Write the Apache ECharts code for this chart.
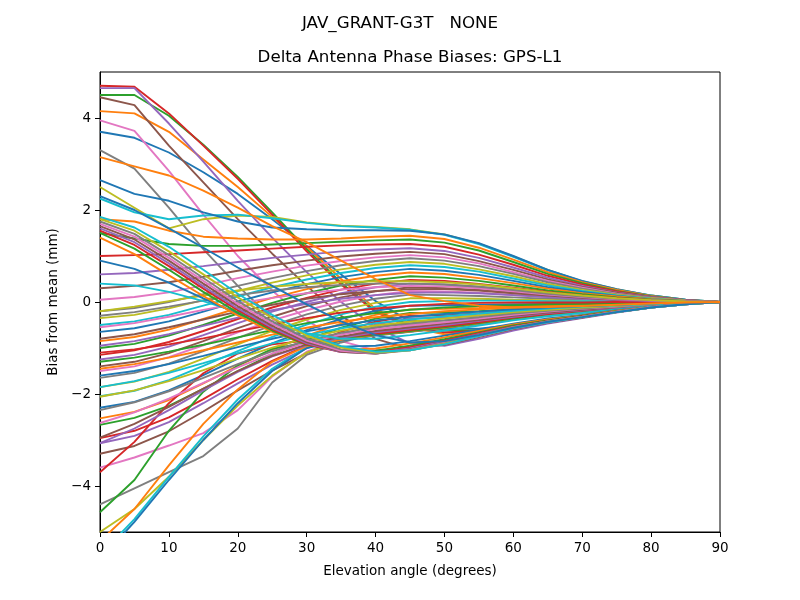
<!DOCTYPE html>
<html>
<head>
<meta charset="utf-8">
<script src="https://cdn.jsdelivr.net/npm/echarts@6/dist/echarts.min.js"></script>
<style>html,body{margin:0;padding:0;background:#fff}#chart{width:800px;height:600px}</style>
</head>
<body>
<div id="chart"></div>
<script>
const elevations = [0,5,10,15,20,25,30,35,40,45,50,55,60,65,70,75,80,85,90];
const yTicks = [-4,-2,0,2,4];
const xTicks = [0,10,20,30,40,50,60,70,80,90];

const line00 = [3.70,3.57,3.25,2.82,2.35,1.80,1.22,0.60,0.02,-0.42,-0.58,-0.58,-0.50,-0.39,-0.29,-0.19,-0.10,-0.04,0];
const line01 = [4.15,4.10,3.70,3.10,2.50,1.85,1.20,0.50,-0.15,-0.55,-0.70,-0.68,-0.56,-0.43,-0.32,-0.21,-0.11,-0.04,0];
const line02 = [4.50,4.50,4.05,3.42,2.72,1.95,1.15,0.42,-0.20,-0.50,-0.62,-0.62,-0.53,-0.41,-0.31,-0.20,-0.11,-0.04,0];
const line03 = [4.70,4.68,4.10,3.40,2.68,1.90,1.10,0.38,-0.22,-0.55,-0.66,-0.63,-0.53,-0.41,-0.31,-0.20,-0.11,-0.04,0];
const line04 = [4.65,4.65,3.88,3.05,2.20,1.40,0.65,0.00,-0.55,-0.90,-0.95,-0.80,-0.62,-0.47,-0.35,-0.23,-0.12,-0.05,0];
const line05 = [4.45,4.28,3.40,2.60,1.80,1.05,0.35,-0.30,-0.80,-1.02,-0.93,-0.76,-0.59,-0.45,-0.34,-0.22,-0.12,-0.05,0];
const line06 = [3.95,3.72,2.85,1.90,1.00,0.25,-0.40,-0.85,-1.05,-1.05,-0.91,-0.74,-0.57,-0.44,-0.33,-0.22,-0.12,-0.05,0];
const line07 = [3.30,2.90,2.05,1.15,0.35,-0.35,-0.85,-1.08,-1.12,-1.02,-0.88,-0.71,-0.55,-0.43,-0.33,-0.22,-0.12,-0.05,0];
const line08 = [2.50,2.05,1.60,1.80,1.88,1.85,1.73,1.66,1.63,1.58,1.47,1.27,0.99,0.70,0.45,0.28,0.14,0.05,0];
const line09 = [2.25,1.95,1.80,1.88,1.90,1.82,1.72,1.65,1.62,1.57,1.46,1.26,0.98,0.69,0.45,0.27,0.14,0.05,0];
const line10 = [2.65,2.35,2.20,1.95,1.75,1.62,1.58,1.56,1.56,1.55,1.47,1.28,1.00,0.70,0.46,0.28,0.14,0.05,0];
const line11 = [1.80,1.75,1.55,1.42,1.38,1.36,1.36,1.38,1.42,1.44,1.37,1.18,0.92,0.65,0.43,0.26,0.13,0.04,0];
const line12 = [1.50,1.38,1.26,1.22,1.22,1.25,1.28,1.31,1.34,1.36,1.29,1.12,0.87,0.61,0.41,0.24,0.12,0.04,0];
const line13 = [1.00,1.02,1.04,1.08,1.12,1.16,1.20,1.23,1.25,1.26,1.20,1.03,0.81,0.57,0.38,0.23,0.11,0.04,0];
const line14 = [0.60,0.63,0.70,0.78,0.87,0.96,1.03,1.10,1.14,1.17,1.11,0.96,0.75,0.53,0.35,0.21,0.11,0.04,0];
const line15 = [0.30,0.35,0.43,0.55,0.68,0.80,0.90,0.99,1.05,1.09,1.04,0.89,0.70,0.49,0.33,0.20,0.10,0.03,0];
const line16 = [0.05,0.11,0.21,0.36,0.52,0.66,0.79,0.89,0.97,1.02,0.97,0.84,0.65,0.46,0.31,0.18,0.09,0.03,0];
const line17 = [-0.20,-0.13,0.00,0.17,0.35,0.52,0.67,0.80,0.89,0.95,0.90,0.78,0.61,0.43,0.29,0.17,0.09,0.03,0];
const line18 = [-0.35,-0.28,-0.14,0.04,0.24,0.42,0.58,0.71,0.81,0.87,0.83,0.71,0.56,0.39,0.26,0.16,0.08,0.03,0];
const line19 = [-0.50,-0.42,-0.28,-0.08,0.12,0.32,0.49,0.63,0.74,0.80,0.76,0.66,0.51,0.36,0.24,0.14,0.07,0.02,0];
const line20 = [-0.65,-0.57,-0.42,-0.21,0.01,0.21,0.39,0.54,0.65,0.72,0.68,0.59,0.46,0.32,0.22,0.13,0.06,0.02,0];
const line21 = [-0.85,-0.76,-0.60,-0.37,-0.13,0.09,0.28,0.45,0.57,0.64,0.61,0.52,0.41,0.29,0.19,0.12,0.06,0.02,0];
const line22 = [-1.00,-0.91,-0.73,-0.50,-0.25,-0.02,0.19,0.36,0.48,0.56,0.53,0.46,0.36,0.25,0.17,0.10,0.05,0.02,0];
const line23 = [-1.15,-1.05,-0.87,-0.63,-0.37,-0.12,0.09,0.27,0.40,0.48,0.46,0.39,0.31,0.22,0.14,0.09,0.04,0.01,0];
const line24 = [-1.25,-1.15,-0.97,-0.72,-0.46,-0.21,0.00,0.19,0.32,0.40,0.38,0.33,0.26,0.18,0.12,0.07,0.04,0.01,0];
const line25 = [-1.40,-1.30,-1.11,-0.85,-0.57,-0.32,-0.09,0.10,0.23,0.32,0.30,0.26,0.20,0.14,0.10,0.06,0.03,0.01,0];
const line26 = [-1.50,-1.40,-1.20,-0.94,-0.66,-0.40,-0.18,0.01,0.15,0.24,0.23,0.20,0.15,0.11,0.07,0.04,0.02,0.01,0];
const line27 = [-1.65,-1.54,-1.34,-1.07,-0.78,-0.51,-0.27,-0.08,0.07,0.16,0.15,0.13,0.10,0.07,0.05,0.03,0.01,0.00,0];
const line28 = [-1.85,-1.73,-1.52,-1.23,-0.92,-0.63,-0.38,-0.17,-0.02,0.08,0.08,0.07,0.05,0.04,0.02,0.01,0.01,0.00,0];
const line29 = [-2.05,-1.93,-1.70,-1.39,-1.07,-0.76,-0.49,-0.27,-0.10,0.00,0.02,0.03,0.03,0.02,0.02,0.01,0.01,0.00,0];
const line30 = [-2.30,-2.17,-1.92,-1.59,-1.23,-0.90,-0.61,-0.37,-0.19,-0.08,-0.07,-0.06,-0.05,-0.04,-0.03,-0.02,-0.01,0.00,0];
const line31 = [-2.53,-2.39,-2.13,-1.77,-1.39,-1.04,-0.73,-0.47,-0.28,-0.16,-0.15,-0.13,-0.10,-0.07,-0.05,-0.03,-0.01,0.00,0];
const line32 = [-2.67,-2.52,-2.26,-1.89,-1.50,-1.14,-0.82,-0.56,-0.36,-0.24,-0.23,-0.20,-0.15,-0.11,-0.07,-0.04,-0.02,-0.01,0];
const line33 = [-2.96,-2.80,-2.51,-2.11,-1.68,-1.28,-0.94,-0.65,-0.43,-0.30,-0.29,-0.25,-0.19,-0.14,-0.09,-0.05,-0.03,-0.01,0];
const line34 = [-3.07,-2.91,-2.61,-2.20,-1.77,-1.36,-1.01,-0.71,-0.49,-0.36,-0.34,-0.30,-0.23,-0.16,-0.11,-0.06,-0.03,-0.01,0];
const line35 = [-3.30,-3.13,-2.81,-2.38,-1.92,-1.49,-1.11,-0.79,-0.56,-0.42,-0.40,-0.34,-0.27,-0.19,-0.13,-0.08,-0.04,-0.01,0];
const line36 = [-3.60,-3.38,-3.12,-2.85,-2.35,-1.62,-1.08,-0.82,-0.64,-0.48,-0.46,-0.39,-0.31,-0.22,-0.14,-0.09,-0.04,-0.01,0];
const line37 = [-4.40,-4.05,-3.70,-3.35,-2.75,-1.75,-1.15,-0.88,-0.68,-0.54,-0.51,-0.44,-0.35,-0.24,-0.16,-0.10,-0.05,-0.02,0];
const line38 = [-5.00,-4.50,-3.80,-3.00,-2.25,-1.60,-1.10,-0.84,-0.68,-0.58,-0.55,-0.48,-0.37,-0.26,-0.17,-0.10,-0.05,-0.02,0];
const line39 = [-5.50,-4.72,-3.80,-2.92,-2.12,-1.45,-0.98,-0.83,-0.72,-0.64,-0.56,-0.47,-0.37,-0.28,-0.20,-0.13,-0.07,-0.03,0];
const line40 = [-5.60,-4.78,-3.87,-3.00,-2.20,-1.50,-1.00,-0.84,-0.73,-0.65,-0.57,-0.48,-0.38,-0.29,-0.21,-0.14,-0.07,-0.03,0];
const line41 = [-5.20,-4.50,-3.55,-2.65,-1.90,-1.30,-0.96,-0.82,-0.72,-0.64,-0.56,-0.47,-0.37,-0.28,-0.20,-0.13,-0.07,-0.03,0];
const line42 = [-4.57,-3.87,-2.80,-1.95,-1.38,-1.02,-0.88,-0.79,-0.71,-0.63,-0.55,-0.46,-0.36,-0.27,-0.20,-0.13,-0.07,-0.02,0];
const line43 = [-3.70,-3.04,-2.20,-1.55,-1.12,-0.92,-0.84,-0.77,-0.69,-0.61,-0.53,-0.44,-0.34,-0.26,-0.19,-0.12,-0.07,-0.02,0];
const line44 = [-3.07,-2.75,-2.35,-1.92,-1.52,-1.18,-0.94,-0.78,-0.66,-0.58,-0.50,-0.41,-0.32,-0.24,-0.18,-0.12,-0.06,-0.02,0];
const line45 = [-2.95,-2.65,-2.28,-1.88,-1.50,-1.17,-0.92,-0.75,-0.63,-0.55,-0.47,-0.39,-0.30,-0.23,-0.17,-0.11,-0.06,-0.02,0];
const line46 = [-2.63,-2.40,-2.10,-1.76,-1.42,-1.12,-0.88,-0.71,-0.59,-0.51,-0.44,-0.36,-0.28,-0.21,-0.15,-0.10,-0.05,-0.02,0];
const line47 = [-2.35,-2.18,-1.94,-1.65,-1.35,-1.07,-0.84,-0.67,-0.55,-0.47,-0.40,-0.33,-0.25,-0.19,-0.14,-0.09,-0.05,-0.02,0];
const line48 = [-2.06,-1.92,-1.72,-1.48,-1.23,-0.99,-0.78,-0.62,-0.51,-0.43,-0.36,-0.29,-0.22,-0.17,-0.12,-0.08,-0.04,-0.02,0];
const line49 = [-1.85,-1.72,-1.54,-1.33,-1.11,-0.90,-0.72,-0.57,-0.46,-0.38,-0.31,-0.25,-0.19,-0.14,-0.10,-0.07,-0.04,-0.01,0];
const line50 = [-1.60,-1.50,-1.35,-1.17,-0.98,-0.80,-0.64,-0.50,-0.40,-0.32,-0.26,-0.21,-0.16,-0.12,-0.09,-0.06,-0.03,-0.01,0];
const line51 = [-1.45,-1.35,-1.21,-1.05,-0.88,-0.71,-0.56,-0.43,-0.33,-0.26,-0.20,-0.16,-0.12,-0.09,-0.07,-0.05,-0.03,-0.01,0];
const line52 = [-1.30,-1.21,-1.08,-0.93,-0.77,-0.61,-0.46,-0.34,-0.24,-0.17,-0.12,-0.09,-0.07,-0.05,-0.04,-0.03,-0.02,-0.01,0];
const line53 = [-1.10,-1.03,-0.92,-0.79,-0.64,-0.49,-0.35,-0.23,-0.14,-0.08,-0.04,-0.02,-0.01,-0.01,-0.01,0.00,0.00,0.00,0];
const line54 = [-0.95,-0.85,-0.70,-0.52,-0.34,-0.18,-0.04,0.07,0.15,0.20,0.21,0.19,0.15,0.11,0.07,0.04,0.02,0.01,0];
const line55 = [-0.80,-0.70,-0.55,-0.38,-0.21,-0.06,0.07,0.17,0.24,0.28,0.28,0.25,0.19,0.14,0.09,0.05,0.03,0.01,0];
const line56 = [-0.55,-0.46,-0.32,-0.17,-0.03,0.09,0.19,0.27,0.32,0.35,0.34,0.30,0.23,0.16,0.11,0.06,0.03,0.01,0];
const line57 = [-0.30,-0.22,-0.10,0.03,0.15,0.25,0.32,0.37,0.40,0.40,0.38,0.33,0.26,0.18,0.12,0.07,0.04,0.01,0];
const line58 = [-0.20,-0.10,0.02,0.14,0.25,0.33,0.39,0.43,0.45,0.45,0.43,0.38,0.30,0.21,0.14,0.08,0.04,0.01,0];
const line59 = [0.40,0.36,0.22,0.02,-0.22,-0.47,-0.68,-0.80,-0.80,-0.72,-0.62,-0.51,-0.40,-0.31,-0.24,-0.16,-0.09,-0.03,0];
const line60 = [0.90,0.72,0.42,0.08,-0.26,-0.58,-0.84,-0.97,-0.95,-0.85,-0.73,-0.60,-0.47,-0.36,-0.28,-0.18,-0.10,-0.04,0];
const line61 = [1.40,1.04,0.58,0.13,-0.29,-0.65,-0.92,-1.04,-1.01,-0.90,-0.77,-0.63,-0.49,-0.38,-0.29,-0.19,-0.10,-0.04,0];
const line62 = [1.50,1.16,0.70,0.22,-0.23,-0.62,-0.93,-1.07,-1.06,-0.95,-0.81,-0.66,-0.51,-0.40,-0.30,-0.20,-0.11,-0.04,0];
const line63 = [1.55,1.24,0.78,0.29,-0.18,-0.59,-0.92,-1.09,-1.09,-0.98,-0.84,-0.68,-0.53,-0.41,-0.31,-0.21,-0.11,-0.04,0];
const line64 = [1.60,1.30,0.84,0.34,-0.14,-0.56,-0.90,-1.09,-1.11,-1.01,-0.86,-0.70,-0.54,-0.42,-0.32,-0.21,-0.11,-0.04,0];
const line65 = [1.65,1.36,0.90,0.40,-0.09,-0.52,-0.87,-1.08,-1.12,-1.03,-0.88,-0.71,-0.55,-0.42,-0.32,-0.21,-0.11,-0.04,0];
const line66 = [1.70,1.42,0.96,0.46,-0.04,-0.47,-0.84,-1.06,-1.12,-1.04,-0.89,-0.72,-0.55,-0.42,-0.32,-0.21,-0.11,-0.04,0];
const line67 = [1.75,1.48,1.02,0.52,0.02,-0.42,-0.79,-1.03,-1.12,-1.05,-0.90,-0.72,-0.56,-0.43,-0.33,-0.22,-0.12,-0.05,0];
const line68 = [1.80,1.55,1.10,0.60,0.10,-0.35,-0.73,-0.99,-1.10,-1.05,-0.91,-0.73,-0.56,-0.43,-0.33,-0.22,-0.12,-0.05,0];
const line69 = [1.85,1.62,1.20,0.70,0.18,-0.28,-0.68,-0.96,-1.08,-1.05,-0.92,-0.74,-0.57,-0.44,-0.33,-0.22,-0.12,-0.05,0];
const line70 = [2.30,2.00,1.60,1.18,0.75,0.35,-0.05,-0.42,-0.72,-0.88,-0.85,-0.72,-0.56,-0.43,-0.33,-0.22,-0.12,-0.05,0];
const line71 = [3.15,2.95,2.75,2.42,2.05,1.65,1.30,0.90,0.50,0.15,0.02,-0.08,-0.12,-0.11,-0.09,-0.06,-0.03,-0.01,0];

const allLines = [line00,line01,line02,line03,line04,line05,line06,line07,line08,line09,
  line10,line11,line12,line13,line14,line15,line16,line17,line18,line19,
  line20,line21,line22,line23,line24,line25,line26,line27,line28,line29,
  line30,line31,line32,line33,line34,line35,line36,line37,line38,line39,
  line40,line41,line42,line43,line44,line45,line46,line47,line48,line49,
  line50,line51,line52,line53,line54,line55,line56,line57,line58,line59,
  line60,line61,line62,line63,line64,line65,line66,line67,line68,line69,
  line70,line71];

const palette = ['#1f77b4','#ff7f0e','#2ca02c','#d62728','#9467bd','#8c564b','#e377c2','#7f7f7f','#bcbd22','#17becf'];
const FONT = 'DejaVu Sans';

const chart = echarts.init(document.getElementById('chart'), null, {renderer: 'canvas'});
const series = allLines.map((vals, i) => ({
  type: 'line',
  data: elevations.map((e, k) => [e, vals[k]]),
  showSymbol: false,
  symbol: 'none',
  clip: true,
  lineStyle: {width: 1.9, color: palette[i % 10]},
  itemStyle: {color: palette[i % 10]},
  emphasis: {disabled: true},
  z: 2
}));

chart.setOption({
  animation: false,
  backgroundColor: '#ffffff',
  color: palette,
  textStyle: {fontFamily: FONT, color: '#000'},
  title: {
    text: 'JAV_GRANT-G3T   NONE',
    left: 'center',
    top: 10,
    textStyle: {fontFamily: FONT, fontSize: 16.7, fontWeight: 'normal', color: '#000'}
  },
  graphic: [{
    type: 'text',
    x: 410,
    y: 58,
    style: {
      text: 'Delta Antenna Phase Biases: GPS-L1',
      fill: '#000',
      font: 'normal 16.7px "DejaVu Sans"',
      textAlign: 'center',
      textVerticalAlign: 'middle'
    }
  }],
  grid: {
    left: 100, right: 80, top: 72, bottom: 68,
    show: true, borderColor: '#000', borderWidth: 1, backgroundColor: 'transparent'
  },
  xAxis: {
    type: 'value',
    min: 0, max: 90, interval: 10,
    name: 'Elevation angle (degrees)',
    nameLocation: 'middle',
    nameGap: 32,
    nameTextStyle: {fontFamily: FONT, fontSize: 13.5, color: '#000'},
    axisLine: {show: true, onZero: false, lineStyle: {color: '#000', width: 1}},
    axisTick: {show: true, inside: false, length: 5, lineStyle: {color: '#000'}},
    axisLabel: {show: true, margin: 9, fontFamily: FONT, fontSize: 13.5, color: '#000', customValues: xTicks},
    splitLine: {show: false}
  },
  yAxis: {
    type: 'value',
    min: -5, max: 5,
    name: 'Bias from mean (mm)',
    nameLocation: 'middle',
    nameGap: 33,
    nameTextStyle: {fontFamily: FONT, fontSize: 13.5, color: '#000'},
    axisLine: {show: true, onZero: false, lineStyle: {color: '#000', width: 1}},
    axisTick: {show: true, inside: false, length: 5, lineStyle: {color: '#000'}, customValues: yTicks},
    axisLabel: {show: true, margin: 9, fontFamily: FONT, fontSize: 13.5, color: '#000', customValues: yTicks,
      formatter: v => (v < 0 ? '\u2212' + Math.abs(v) : String(v))},
    splitLine: {show: false}
  },
  series: series
});
</script>
</body>
</html>
